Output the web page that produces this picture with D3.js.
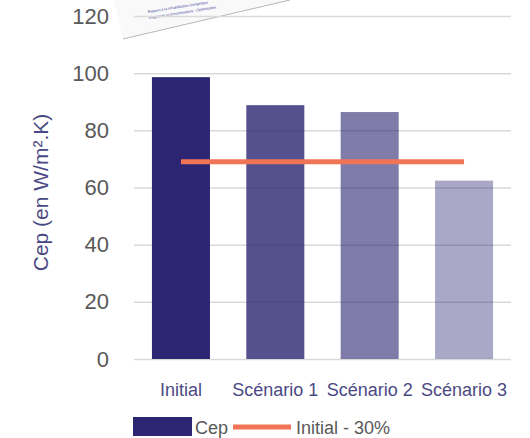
<!DOCTYPE html>
<html>
<head>
<meta charset="utf-8">
<script src="https://cdn.jsdelivr.net/npm/d3@7"></script>
<style>
  body { margin: 0; background: #fff; }
  text { font-family: "Liberation Sans", Arial, sans-serif; }
</style>
</head>
<body>
<script>
// data
let categories = ['Initial', 'Scénario 1', 'Scénario 2', 'Scénario 3']
let cep = [98.6, 88.8, 86.4, 62.4]
let target = [69, 69, 69, 69]   // Initial - 30%
let yTicks = [0, 20, 40, 60, 80, 100, 120]

let width = 530, height = 438
let margin = { top: 16, right: 19, bottom: 79, left: 134 }

let svg = d3.select('body').append('svg')
  .attr('width', width)
  .attr('height', height)

let x = d3.scaleBand()
  .domain(categories)
  .range([margin.left, width - margin.right])
  .paddingInner(0.385)
  .paddingOuter(0.19)

let y = d3.scaleLinear()
  .domain([0, 120])
  .range([height - margin.bottom, margin.top])

let barOpacity = [1, 0.8, 0.6, 0.4]

// leftover scrap of a pasted page at the top
let scrap = svg.append('g')
scrap.append('polygon')
  .attr('points', '114,0 290,0 123,39')
  .attr('fill', '#f9f9f9')
scrap.append('line')
  .attr('x1', 123).attr('y1', 39).attr('x2', 290).attr('y2', 0)
  .attr('stroke', '#9a9a9a').attr('stroke-width', 0.7)
scrap.append('text')
  .attr('transform', 'translate(148,13) rotate(-9)')
  .attr('font-size', 3.6).attr('fill', '#4040a0')
  .text('Rapport à la réhabilitation énergétique')
scrap.append('text')
  .attr('transform', 'translate(149,19) rotate(-9)')
  .attr('font-size', 3.6).attr('fill', '#4040a0')
  .text('Diagnostic et préconisations - Optimisation')

// y axis (gridlines + labels)
let yAxis = g => g
  .attr('transform', `translate(${margin.left},0)`)
  .call(d3.axisLeft(y)
    .tickValues(yTicks)
    .tickSize(-(width - margin.left - margin.right))
    .tickPadding(25))
  .call(g => g.select('.domain').remove())
  .call(g => g.selectAll('.tick line')
    .attr('stroke', '#d9d9d9')
    .attr('stroke-width', 1.5))
  .call(g => g.selectAll('.tick text')
    .attr('fill', '#595959')
    .attr('font-size', 22)
    .attr('font-family', '"Liberation Sans", Arial, sans-serif'))

svg.append('g').call(yAxis)

// bars
svg.append('g').selectAll('rect')
  .data(cep)
  .join('rect')
  .attr('x', (d, i) => x(categories[i]))
  .attr('y', d => y(d))
  .attr('width', x.bandwidth())
  .attr('height', d => y(0) - y(d))
  .attr('fill', '#2b2572')
  .attr('fill-opacity', (d, i) => barOpacity[i])

// target line
let line = d3.line()
  .x((d, i) => x(categories[i]) + x.bandwidth() / 2)
  .y(d => y(d))

svg.append('path')
  .datum(target)
  .attr('d', line)
  .attr('fill', 'none')
  .attr('stroke', '#f07556')
  .attr('stroke-width', 5)

// x axis labels
let xAxis = g => g
  .attr('transform', `translate(0,${y(0)})`)
  .call(d3.axisBottom(x).tickSize(0).tickPadding(24))
  .call(g => g.select('.domain').remove())
  .call(g => g.selectAll('.tick text')
    .attr('fill', '#4b4983')
    .attr('font-size', 18)
    .attr('font-family', '"Liberation Sans", Arial, sans-serif'))

svg.append('g').call(xAxis)

// y title
svg.append('text')
  .attr('transform', `translate(48,${(y(0) + y(120)) / 2 + 5}) rotate(-90)`)
  .attr('text-anchor', 'middle')
  .attr('fill', '#4b4983')
  .attr('font-size', 21)
  .text('Cep (en W/m².K)')

// legend
let legend = svg.append('g')
legend.append('rect')
  .attr('x', 133).attr('y', 417).attr('width', 59).attr('height', 19)
  .attr('fill', '#2b2572')
legend.append('text')
  .attr('x', 195).attr('y', 434)
  .attr('fill', '#595959').attr('font-size', 18)
  .text('Cep')
legend.append('line')
  .attr('x1', 233).attr('x2', 291).attr('y1', 427).attr('y2', 427)
  .attr('stroke', '#f07556').attr('stroke-width', 5)
legend.append('text')
  .attr('x', 296).attr('y', 434)
  .attr('fill', '#595959').attr('font-size', 18)
  .text('Initial - 30%')
</script>
</body>
</html>
